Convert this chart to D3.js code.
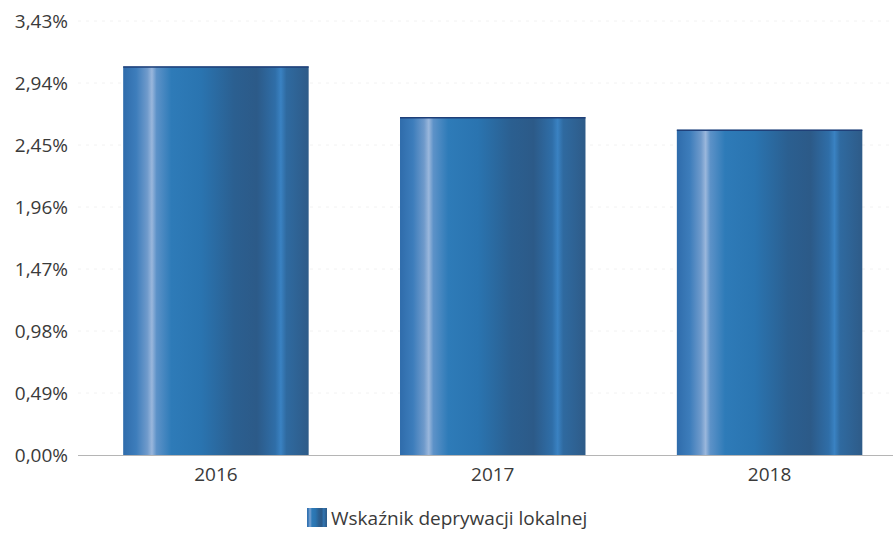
<!DOCTYPE html>
<html><head><meta charset="utf-8">
<script src="https://cdn.jsdelivr.net/npm/d3@7"></script>
<style>body{margin:0;background:#fff;}svg{display:block;font-family:"Open Sans","Noto Sans",sans-serif;}</style>
</head><body>
<svg id="c" width="893" height="534"></svg>
<script>
const categories = ["2016", "2017", "2018"];
const values = [3.07, 2.67, 2.57];
const tickValues = [0, 0.49, 0.98, 1.47, 1.96, 2.45, 2.94, 3.43];
const seriesName = "Wskaźnik deprywacji lokalnej";

const svg = d3.select("#c");
const x = d3.scaleBand().domain(categories).range([77.5, 908]).paddingInner(0.33).paddingOuter(0.165);
const y = d3.scaleLinear().domain([0, 3.43]).range([455, 21]);
const fmt = v => v.toFixed(2).replace(".", ",") + "%";

const defs = svg.append("defs");
const g = defs.append("linearGradient").attr("id", "bg").attr("x1", "0").attr("x2", "1").attr("y1", "0").attr("y2", "0");
[[0, "#2f6cab"], [0.07, "#3d7dbb"], [0.13, "#6f9acb"], [0.155, "#9ab7dc"], [0.18, "#5d92c8"], [0.26, "#2e7bb8"], [0.42, "#2a74b0"], [0.6, "#2b5f90"], [0.72, "#2c5a88"], [0.82, "#2f6ea8"], [0.85, "#3a82c2"], [0.88, "#2f6aa0"], [1, "#2e5b88"]]
  .forEach(([o, c]) => g.append("stop").attr("offset", o).attr("stop-color", c));

// faint grid
svg.append("g").selectAll("line").data(tickValues.slice(1)).join("line")
  .attr("x1", 78).attr("x2", 893).attr("y1", d => y(d)).attr("y2", d => y(d))
  .attr("stroke", "#f2f2f2").attr("stroke-dasharray", "3,5");

// y axis
const ya = svg.append("g").attr("transform", "translate(78,0)")
  .call(d3.axisLeft(y).tickValues(tickValues).tickFormat(fmt).tickSize(0).tickPadding(10));
ya.select(".domain").remove();
ya.selectAll("text").attr("font-size", 19).attr("fill", "#3a3a3a").attr("font-family", "\"Open Sans\",sans-serif");

// bars
svg.append("g").selectAll("rect").data(values).join("rect")
  .attr("x", (d, i) => x(categories[i])).attr("width", x.bandwidth())
  .attr("y", d => y(d)).attr("height", d => y(0) - y(d))
  .attr("fill", "url(#bg)");
svg.append("g").selectAll("line").data(values).join("line")
  .attr("x1", (d, i) => x(categories[i])).attr("x2", (d, i) => x(categories[i]) + x.bandwidth())
  .attr("y1", d => y(d) + 0.5).attr("y2", d => y(d) + 0.5)
  .attr("stroke", "#1f3f78").attr("stroke-width", 1.5);

// x axis
const xa = svg.append("g").attr("transform", "translate(0,455)")
  .call(d3.axisBottom(x).tickSize(0).tickPadding(13));
xa.select(".domain").attr("stroke", "#b5b5b5").attr("d", "M78,0.5H893");
xa.selectAll("text").attr("font-size", 19).attr("fill", "#3a3a3a").attr("font-family", "\"Open Sans\",sans-serif");

// legend
const lg = svg.append("g").attr("transform", "translate(307,508)");
lg.append("rect").attr("width", 20).attr("height", 19).attr("fill", "url(#bg)");
lg.append("text").attr("x", 24).attr("y", 17).attr("font-size", 19).attr("fill", "#3a3a3a").text(seriesName);
</script>
</body></html>
